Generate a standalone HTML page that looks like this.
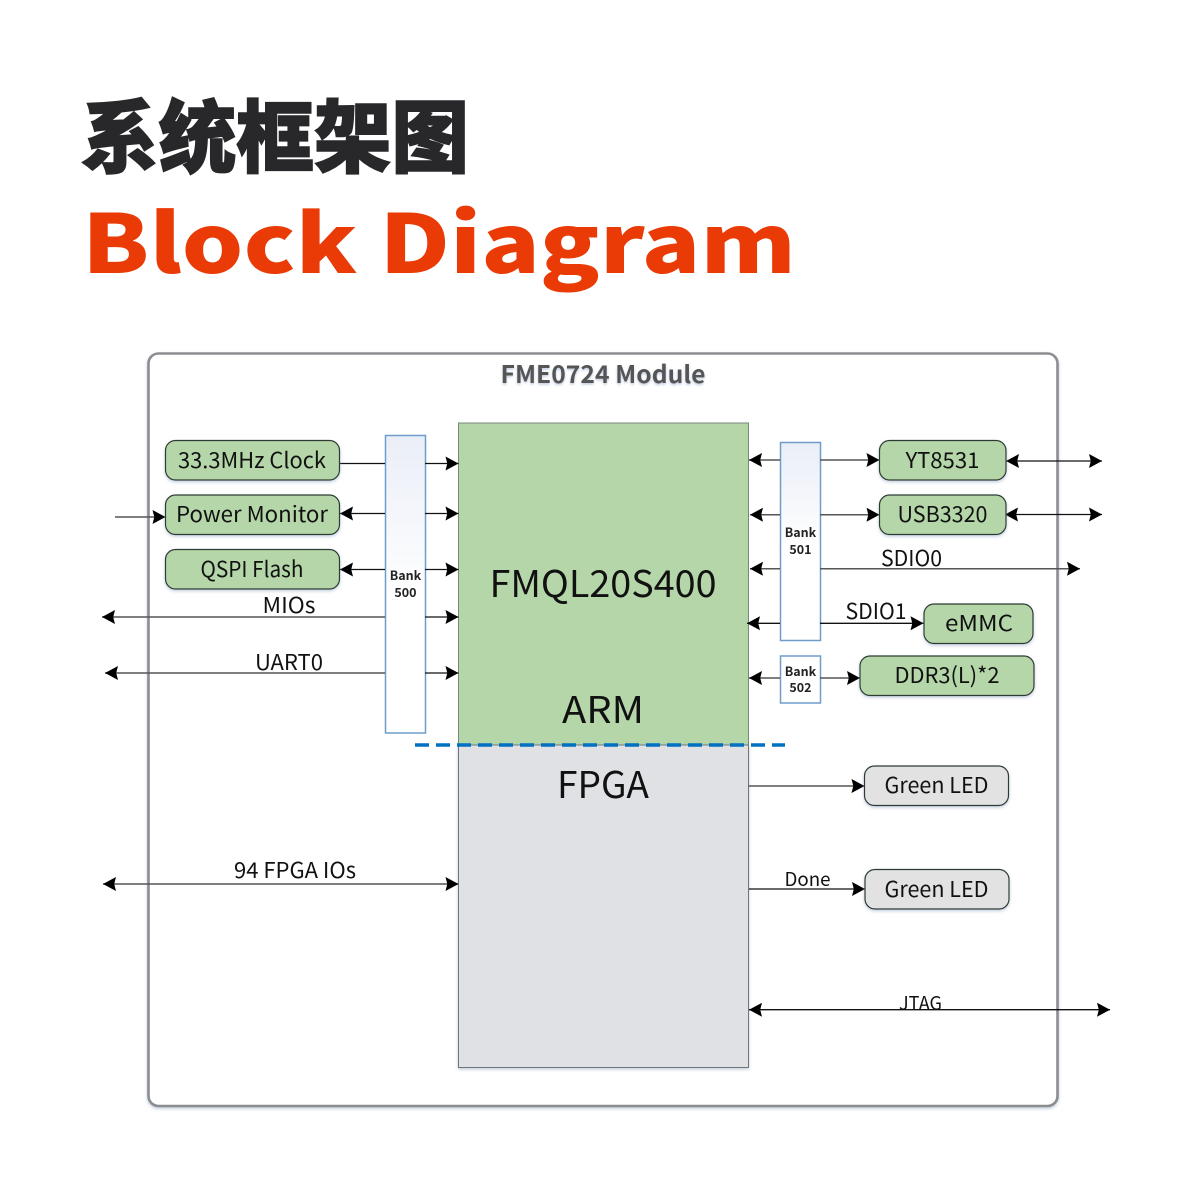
<!DOCTYPE html>
<html><head><meta charset="utf-8">
<style>
html,body{margin:0;padding:0;background:#fff;width:1200px;height:1200px;overflow:hidden}
svg{display:block}
text{font-family:"Noto Sans CJK SC","Liberation Sans",sans-serif;fill:#111}
.l{font-size:22px;text-anchor:middle}
.t{stroke:#111;stroke-width:1.3;fill:none}
.g{stroke:#555;stroke-width:1.5;fill:none}
.b{font-size:12.5px;font-weight:700;text-anchor:middle;fill:#222}
.box{stroke:#2f3a33;stroke-width:1.2;filter:url(#sh)}
</style></head>
<body>
<svg width="1200" height="1200" viewBox="0 0 1200 1200" xmlns="http://www.w3.org/2000/svg">
<defs>
<marker id="a" markerUnits="userSpaceOnUse" markerWidth="14" markerHeight="15" refX="13" refY="7.5" orient="auto-start-reverse"><path d="M0 0.5L13 7.5L0 14.5L1.8 7.5Z" fill="#000"/></marker>
<linearGradient id="bk" x1="0" y1="0" x2="0" y2="1"><stop offset="0" stop-color="#eaeef7"/><stop offset=".55" stop-color="#fff"/></linearGradient>
<filter id="sh" x="-10%" y="-10%" width="120%" height="130%"><feDropShadow dx="0" dy="1.5" stdDeviation="1.5" flood-color="#8fa6c4" flood-opacity=".55"/></filter>
<filter id="ts" x="-5%" y="-20%" width="110%" height="150%"><feDropShadow dx="0" dy="1.5" stdDeviation="1.2" flood-color="#8fa6c4" flood-opacity=".6"/></filter>
</defs>
<rect width="1200" height="1200" fill="#fff"/>
<text x="81" y="166" font-size="79" font-weight="900" textLength="388" lengthAdjust="spacingAndGlyphs" style="font-family:'Noto Sans CJK SC',sans-serif;fill:#28272a;stroke:#28272a;stroke-width:1.5">系统框架图</text>
<text x="82" y="273" font-size="81" font-weight="900" textLength="714" lengthAdjust="spacingAndGlyphs" style="font-family:'Noto Sans CJK SC',sans-serif;fill:#ea3a06">Block Diagram</text>

<rect x="148.5" y="353.5" width="909" height="752.5" rx="10" fill="#fff" stroke="#8b8d90" stroke-width="2.6" filter="url(#sh)"/>
<text x="603" y="383" font-size="24" font-weight="700" text-anchor="middle" textLength="205" lengthAdjust="spacingAndGlyphs" filter="url(#ts)" style="fill:#555">FME0724 Module</text>

<rect x="458.5" y="423" width="290" height="322" fill="#b4d6a9" stroke="#77877a" stroke-width="1"/>
<rect x="458.5" y="745" width="290" height="322.5" fill="#e0e1e5" stroke="#707478" stroke-width="1" filter="url(#sh)"/>

<text x="603" y="597" font-size="37" text-anchor="middle" textLength="227" lengthAdjust="spacingAndGlyphs">FMQL20S400</text>
<text x="603" y="723" font-size="37" text-anchor="middle" textLength="82" lengthAdjust="spacingAndGlyphs">ARM</text>
<text x="603" y="798" font-size="37" text-anchor="middle" textLength="92" lengthAdjust="spacingAndGlyphs">FPGA</text>

<rect x="385.5" y="435.5" width="40" height="297.5" fill="url(#bk)" stroke="#6f9dcb" stroke-width="1.5"/>
<rect x="780.5" y="442.5" width="40" height="198" fill="url(#bk)" stroke="#6f9dcb" stroke-width="1.5"/>
<rect x="780.5" y="656" width="40" height="47" fill="#fff" stroke="#6f9dcb" stroke-width="1.5"/>
<text class="b" x="405.5" y="580">Bank</text><text class="b" x="405.5" y="597">500</text>
<text class="b" x="800.5" y="537">Bank</text><text class="b" x="800.5" y="554">501</text>
<text class="b" x="800.5" y="676">Bank</text><text class="b" x="800.5" y="692">502</text>

<!-- left connectors -->
<path class="t" d="M339 463.5H385"/><path class="t" d="M425 463.5H458.5" marker-end="url(#a)"/>
<path class="t" d="M385 513.5H340" marker-end="url(#a)"/><path class="t" d="M425 513.5H458.5" marker-end="url(#a)"/>
<path class="t" d="M385 569.5H340" marker-end="url(#a)"/><path class="t" d="M425 569.5H458.5" marker-end="url(#a)"/>
<path class="g" d="M385 617H102" marker-end="url(#a)"/><path class="t" d="M425 617H458.5" marker-end="url(#a)"/>
<path class="g" d="M385 673H105" marker-end="url(#a)"/><path class="t" d="M425 673H458.5" marker-end="url(#a)"/>
<path class="g" d="M115 517H165.5" marker-end="url(#a)"/>
<path class="g" d="M103 884H458.5" marker-start="url(#a)" marker-end="url(#a)"/>

<!-- right connectors -->
<path class="g" d="M780 460H749" marker-end="url(#a)"/><path class="g" d="M820 460H879.5" marker-end="url(#a)"/>
<path class="g" d="M780 514.7H750" marker-end="url(#a)"/><path class="g" d="M820 514.7H879.5" marker-end="url(#a)"/>
<path class="g" d="M780 568.7H750" marker-end="url(#a)"/><path class="g" d="M820 568.7H1080" marker-end="url(#a)"/>
<path class="t" d="M780 623.3H747" marker-end="url(#a)"/><path class="t" d="M820 623.3H923.5" marker-end="url(#a)"/>
<path class="g" d="M780 678H749" marker-end="url(#a)"/><path class="g" d="M820 678H860" marker-end="url(#a)"/>
<path class="t" d="M1006 461H1102" marker-start="url(#a)" marker-end="url(#a)"/>
<path class="t" d="M1005 514.5H1102" marker-start="url(#a)" marker-end="url(#a)"/>
<path class="g" d="M748.5 786H864.5" marker-end="url(#a)"/>
<path class="t" d="M749 889H865" marker-end="url(#a)"/>
<path class="t" d="M749 1009.7H1110" marker-start="url(#a)" marker-end="url(#a)"/>

<path d="M415 745H785" stroke="#0070c0" stroke-width="3.4" stroke-dasharray="14 7" fill="none"/>

<!-- boxes -->
<rect class="box" x="165.5" y="440.5" width="174" height="39.5" rx="10" fill="#b4d6a9"/>
<rect class="box" x="165.5" y="495" width="174" height="39.5" rx="10" fill="#b4d6a9"/>
<rect class="box" x="165.5" y="549.5" width="174" height="39.5" rx="10" fill="#b4d6a9"/>
<rect class="box" x="879.5" y="440.5" width="126.5" height="39.5" rx="10" fill="#b4d6a9"/>
<rect class="box" x="879.5" y="495" width="126.5" height="39.5" rx="10" fill="#b4d6a9"/>
<rect class="box" x="924" y="604" width="109" height="39.5" rx="10" fill="#b4d6a9"/>
<rect class="box" x="860" y="656" width="174" height="39.5" rx="10" fill="#b4d6a9"/>
<rect class="box" x="864.5" y="766" width="144" height="39.5" rx="10" fill="#e2e2e2"/>
<rect class="box" x="865" y="869.5" width="144" height="39.5" rx="10" fill="#e2e2e2"/>

<!-- labels -->
<text class="l" x="252" y="468" textLength="148" lengthAdjust="spacingAndGlyphs">33.3MHz Clock</text>
<text class="l" x="252" y="522" textLength="152" lengthAdjust="spacingAndGlyphs">Power Monitor</text>
<text class="l" x="252" y="577" textLength="103" lengthAdjust="spacingAndGlyphs">QSPI Flash</text>
<text class="l" x="289" y="613" textLength="53" lengthAdjust="spacingAndGlyphs">MIOs</text>
<text class="l" x="289" y="670" textLength="68" lengthAdjust="spacingAndGlyphs">UART0</text>
<text class="l" x="295" y="878" textLength="122" lengthAdjust="spacingAndGlyphs">94 FPGA IOs</text>
<text class="l" x="942.5" y="468" textLength="74" lengthAdjust="spacingAndGlyphs">YT8531</text>
<text class="l" x="942.5" y="522" textLength="90" lengthAdjust="spacingAndGlyphs">USB3320</text>
<text class="l" x="911.5" y="566" textLength="61" lengthAdjust="spacingAndGlyphs">SDIO0</text>
<text class="l" x="876" y="619" textLength="61" lengthAdjust="spacingAndGlyphs">SDIO1</text>
<text class="l" x="979" y="631" textLength="68" lengthAdjust="spacingAndGlyphs">eMMC</text>
<text class="l" x="947" y="683" textLength="105" lengthAdjust="spacingAndGlyphs">DDR3(L)*2</text>
<text class="l" x="936.5" y="793" textLength="104" lengthAdjust="spacingAndGlyphs">Green LED</text>
<text class="l" x="936.5" y="897" textLength="104" lengthAdjust="spacingAndGlyphs">Green LED</text>
<text class="l" x="807.5" y="886" style="font-size:19px" textLength="46" lengthAdjust="spacingAndGlyphs">Done</text>
<text class="l" x="920.5" y="1010" style="font-size:19px" textLength="43" lengthAdjust="spacingAndGlyphs">JTAG</text>
</svg>
</body></html>
